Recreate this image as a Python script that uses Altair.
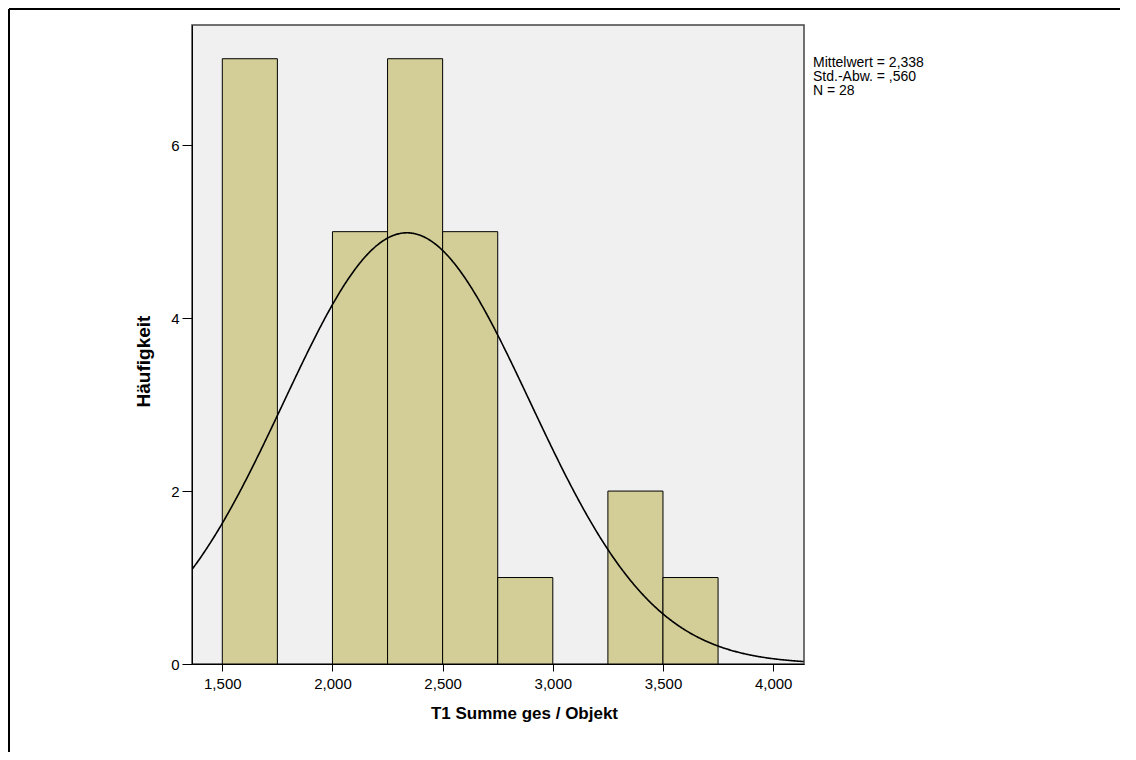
import altair as alt
import pandas as pd

# ---- data ----
bin_starts = [1.50, 2.00, 2.25, 2.50, 2.75, 3.25, 3.50]
bin_width = 0.25
counts = [7, 5, 7, 5, 1, 2, 1]

mean_val = 2.338
sd_val = 0.560
n_val = 28

x_ticks = [1.5, 2.0, 2.5, 3.0, 3.5, 4.0]
y_ticks = [0, 2, 4, 6]
x_domain = [1.3625, 4.14]
y_domain = [0, 7.39]

stats_lines = ["Mittelwert = 2,338", "Std.-Abw. = ,560", "N = 28"]

W, H = 612, 639
PAD_L, PAD_T, PAD_R, PAD_B = 184, 17, 316, 88
FONT = "Liberation Sans"

bars_df = pd.DataFrame({
    "start": bin_starts,
    "end": [s + bin_width for s in bin_starts],
    "count": counts,
})

xscale = alt.Scale(domain=x_domain, nice=False, zero=False)
yscale = alt.Scale(domain=y_domain, nice=False, zero=True)

x_axis = alt.Axis(
    values=x_ticks,
    labelExpr="replace(format(datum.value, '.3f'), '.', ',')",
    title="T1 Summe ges / Objekt",
    titleFontSize=17, titleFontWeight="bold", titlePadding=14,
    titleX=332, titleAlign="center",
    labelFontSize=15, labelPadding=5, tickSize=7,
    grid=False, domainColor="#000", tickColor="#000",
    labelColor="#000", titleColor="#000",
)
y_axis = alt.Axis(
    values=y_ticks, format="d",
    title="Häufigkeit",
    titleFontSize=19, titleFontWeight="bold", titlePadding=17,
    titleY=336, titleAlign="center",
    labelFontSize=15, labelPadding=3, tickSize=10,
    grid=False, domainColor="#000", tickColor="#000",
    labelColor="#000", titleColor="#000",
)

bars = alt.Chart(bars_df).mark_rect(
    fill="#d3ce97", stroke="#000", strokeWidth=1
).encode(
    x=alt.X("start:Q", scale=xscale, axis=x_axis),
    x2="end:Q",
    y=alt.Y("count:Q", scale=yscale, axis=y_axis),
    y2=alt.datum(0),
)

curve = alt.Chart(
    alt.sequence(x_domain[0], x_domain[1] + 0.001, 0.004, as_="xv")
).transform_calculate(
    yv=f"{n_val} * {bin_width} * densityNormal(datum.xv, {mean_val}, {sd_val})"
).mark_line(color="#000", strokeWidth=1.6, clip=True).encode(
    x=alt.X("xv:Q", scale=xscale),
    y=alt.Y("yv:Q", scale=yscale),
)

stats = alt.Chart(pd.DataFrame({"t": ["\n".join(stats_lines)]})).mark_text(
    align="left", baseline="top", font=FONT, fontSize=14, lineHeight=14,
    lineBreak="\n", color="#000",
).encode(
    x=alt.value(W + 9), y=alt.value(31), text="t:N"
)

one = pd.DataFrame({"a": [0]})
frame_top = alt.Chart(one).mark_rule(color="#000", strokeWidth=2).encode(
    x=alt.value(-PAD_L + 1), x2=alt.value(W + PAD_R), y=alt.value(-PAD_T + 1)
)
frame_left = alt.Chart(one).mark_rule(color="#000", strokeWidth=2).encode(
    x=alt.value(-PAD_L + 1), y=alt.value(-PAD_T + 1), y2=alt.value(H + PAD_B)
)

chart = alt.layer(bars, curve, stats, frame_top, frame_left).properties(
    width=W, height=H,
    autosize=alt.AutoSizeParams(type="none"),
    padding={"left": PAD_L, "top": PAD_T, "right": PAD_R, "bottom": PAD_B},
    background="#ffffff",
).configure_view(
    fill="#f0f0f0", stroke="#444444", strokeWidth=1.5
).configure_axis(
    labelFont=FONT, titleFont=FONT
)

chart.save("out.html", embed_options={"renderer": "svg", "actions": False})
